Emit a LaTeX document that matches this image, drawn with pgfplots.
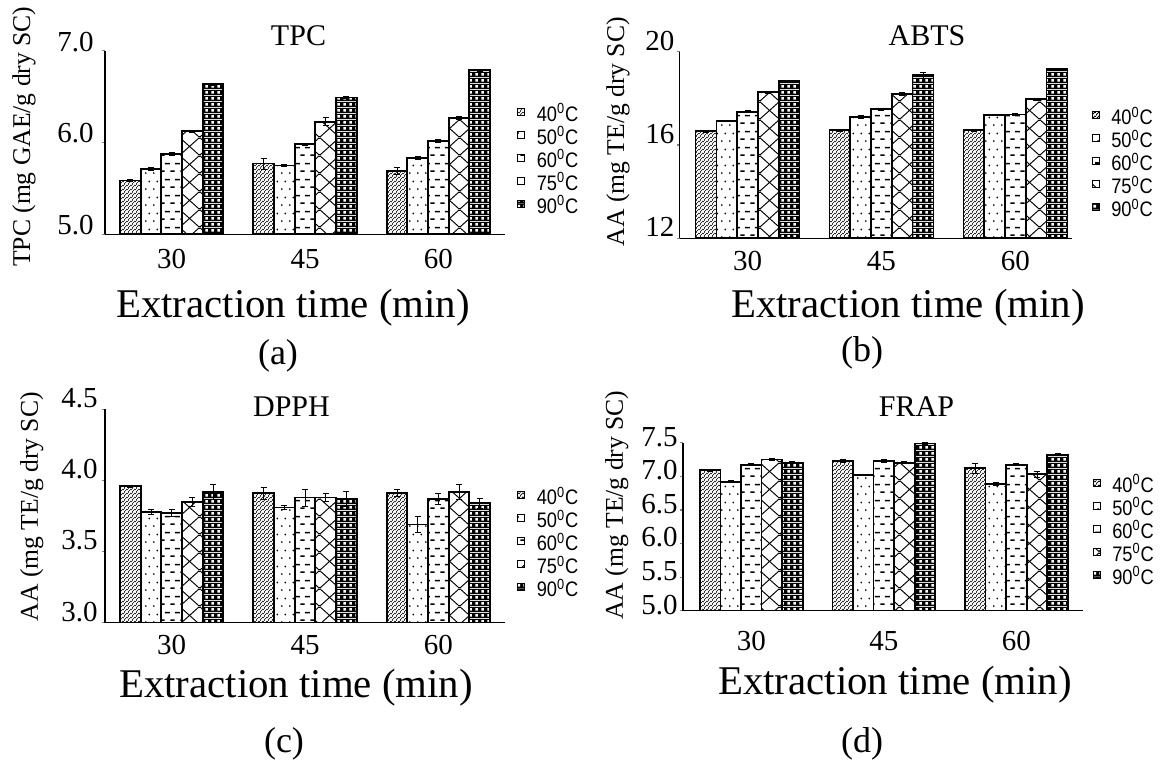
\documentclass[border=0pt]{standalone}
\usepackage{fontspec}
\setmainfont{Liberation Serif}
\newfontfamily\legfont[FakeStretch=0.87]{Liberation Sans}
\usepackage{pgfplots}
\usepackage{pgfplotstable}
\pgfplotsset{compat=1.18}
\usetikzlibrary{patterns.meta}

% bar fills (black on white)
\tikzdeclarepattern{name=pdiag, type=colored, bottom left={(0pt,0pt)}, top right={(2pt,2pt)}, tile size={(2pt,2pt)},
  code={\draw[black,line width=0.4pt] (-0.5pt,-0.5pt)--(2.5pt,2.5pt) (1.5pt,-0.5pt)--(2.5pt,0.5pt) (-0.5pt,1.5pt)--(0.5pt,2.5pt);}}
\tikzdeclarepattern{name=pdots, type=colored, bottom left={(0pt,0pt)}, top right={(4pt,8pt)}, tile size={(4pt,8pt)},
  code={\fill[black] (1pt,1pt) circle (0.5pt); \fill[black] (3pt,5pt) circle (0.5pt);}}
\tikzdeclarepattern{name=pdash, type=colored, bottom left={(0pt,0pt)}, top right={(5pt,8pt)}, tile size={(5pt,8pt)},
  code={\draw[black,line width=0.8pt] (0.2pt,2pt)--(2.6pt,2pt) (2.7pt,6pt)--(5.1pt,6pt);}}
\tikzdeclarepattern{name=pdiam, type=colored, bottom left={(0pt,0pt)}, top right={(10pt,9pt)}, tile size={(10pt,9pt)},
  code={\draw[black,line width=0.5pt] (-1pt,-0.9pt)--(11pt,9.9pt) (-1pt,9.9pt)--(11pt,-0.9pt);}}
\tikzdeclarepattern{name=pcheck, type=colored, bottom left={(0pt,0pt)}, top right={(3pt,3pt)}, tile size={(3pt,3pt)},
  code={\fill[black] (0pt,0pt) rectangle (3pt,3pt); \fill[white] (0.75pt,0.75pt) rectangle (2.25pt,2.25pt);}}

\pgfplotstableread{
x  a     ea    b     eb    c     ec    d     ed    e     ee
0  5.585 0.010 5.711 0.015 5.875 0.012 6.125 0.010 6.637 0.010
1  5.770 0.060 5.750 0.012 5.980 0.010 6.227 0.045 6.490 0.012
2  5.690 0.040 5.830 0.015 6.020 0.015 6.270 0.015 6.790 0.010
}\tpc
\pgfplotstableread{
x  a     ea    b     eb    c     ec    d     ed    e     ee
0  16.60 0.04  17.03 0.03  17.43 0.04  18.26 0.03  18.73 0.05
1  16.63 0.05  17.20 0.06  17.53 0.05  18.19 0.05  18.99 0.13
2  16.63 0.03  17.29 0.04  17.31 0.04  17.97 0.04  19.26 0.04
}\abts
\pgfplotstableread{
x  a     ea     b     eb     c     ec     d     ed     e     ee
0  3.96  0.008  3.78  0.020  3.77  0.025  3.85  0.030  3.92  0.050
1  3.91  0.040  3.81  0.012  3.88  0.060  3.88  0.030  3.87  0.050
2  3.91  0.025  3.69  0.055  3.87  0.040  3.92  0.050  3.84  0.035
}\dpph
\pgfplotstableread{
x  a     ea     b     eb     c     ec     d     ed     e     ee
0  7.09  0.015  6.92  0.015  7.17  0.015  7.25  0.015  7.20  0.015
1  7.23  0.020  7.02  0.012  7.23  0.020  7.20  0.015  7.49  0.020
2  7.12  0.070  6.89  0.020  7.17  0.015  7.03  0.050  7.32  0.015
}\frap

\newcommand{\bars}[1]{%
  \addplot[pattern=pdiag,  bar shift=-0.31]  table[x=x,y=a,y error=ea]{#1};
  \addplot[pattern=pdots,  bar shift=-0.155] table[x=x,y=b,y error=eb]{#1};
  \addplot[pattern=pdash,  bar shift=0]      table[x=x,y=c,y error=ec]{#1};
  \addplot[pattern=pdiam,  bar shift=0.155]  table[x=x,y=d,y error=ed]{#1};
  \addplot[pattern=pcheck, bar shift=0.31]   table[x=x,y=e,y error=ee]{#1};
  \legend{40\textsuperscript{0}C,50\textsuperscript{0}C,60\textsuperscript{0}C,75\textsuperscript{0}C,90\textsuperscript{0}C}
}

\pgfplotsset{
  panel/.style={
    scale only axis, anchor=south west, axis on top,
    axis x line*=bottom, axis y line*=left,
    axis line style={-, line width=0.7pt},
    ybar, bar width=0.155,
    xtick={0,1,2}, xticklabels={30,45,60},
    xtick style={draw=none}, ytick align=outside, xtick align=inside,
    major tick length=1.5pt, ytick style={line width=0.6pt},
    tick label style={font=\fontsize{14.5}{17}\selectfont},
    /pgf/number format/assume math mode=true,
    every axis plot/.append style={draw=black, line width=0.85pt},
    error bars/y dir=both, error bars/y explicit,
    error bars/error bar style={black, line width=0.4pt, mark size=1.5pt},
    legend image code/.code={\draw[##1, line width=0.5pt] (0pt,1.5pt) rectangle (3.5pt,5pt); \path (9pt,0pt);},
    legend style={anchor=north west, draw=none, fill=none, inner sep=0pt, row sep=0pt,
      font=\legfont\fontsize{10.5}{12}\selectfont,
      nodes={inner sep=0pt, text height=7.5pt, text depth=4pt}},
    legend cell align=left,
  },
  onedec/.style={y tick label style={/pgf/number format/fixed, /pgf/number format/fixed zerofill, /pgf/number format/precision=1}},
}

\begin{document}
\begin{tikzpicture}
\useasboundingbox (0,0) rectangle (583pt,-383.5pt);

% (a) TPC
\begin{axis}[panel, onedec, at={(52.5pt,-117.15pt)}, width=200pt, height=91.8pt,
  xmin=-0.5, xmax=2.5, ymin=5, ymax=7, ytick={5,6,7},
  yticklabel style={anchor=east, inner sep=0pt, xshift=-4pt, yshift=4.5pt},
  xticklabel style={anchor=north, inner sep=0pt, yshift=-7.5pt},
  legend style={at={(1.03,0.696)}}]
\bars{\tpc}
\end{axis}

% (b) ABTS
\begin{axis}[panel, at={(339.85pt,-119.15pt)}, width=196pt, height=93.3pt,
  xmin=-0.506, xmax=2.42, ymin=12, ymax=20, ytick={12,16,20},
  yticklabel style={anchor=east, inner sep=0pt, xshift=-1pt, yshift=5.5pt},
  xticklabel style={anchor=north, inner sep=0pt, yshift=-6.4pt},
  legend style={at={(1.0505,0.690)}}]
\bars{\abts}
\end{axis}

% (c) DPPH
\begin{axis}[panel, onedec, at={(52.5pt,-311.35pt)}, width=200pt, height=106.7pt,
  xmin=-0.5, xmax=2.5, ymin=3, ymax=4.5, ytick={3,3.5,4,4.5},
  yticklabel style={anchor=east, inner sep=0pt, xshift=-2pt, yshift=5.5pt},
  xticklabel style={anchor=north, inner sep=0pt, yshift=-6pt},
  legend style={at={(1.03,0.624)}}]
\bars{\dpph}
\end{axis}

% (d) FRAP
\begin{axis}[panel, onedec, at={(341.5pt,-305.35pt)}, width=199.85pt, height=84pt,
  xmin=-0.515, xmax=2.5, ymin=5, ymax=7.5, ytick={5,5.5,6,6.5,7,7.5},
  yticklabel style={anchor=east, inner sep=0pt, xshift=-1pt, yshift=3pt},
  xticklabel style={anchor=north, inner sep=0pt, yshift=-10.2pt},
  legend style={at={(1.0245,0.793)}}]
\bars{\frap}
\end{axis}

% titles
\begin{scope}[every node/.style={font=\fontsize{15}{18}\selectfont, anchor=base, inner sep=0pt}]
\node at (149.25pt,-22.5pt) {TPC};
\node at (463.5pt,-22.5pt) {ABTS};
\node at (145.75pt,-208.35pt) {DPPH};
\node at (458.25pt,-208.35pt) {FRAP};
\end{scope}
% y labels
\begin{scope}[every node/.style={font=\fontsize{12.8}{15}\selectfont, rotate=90, inner sep=0pt}]
\node at (12pt,-68.35pt) {TPC (mg GAE/g dry SC)};
\node at (309pt,-65.85pt) {AA (mg TE/g dry SC)};
\node at (15.85pt,-253.35pt) {AA (mg TE/g dry SC)};
\node at (308.4pt,-252.5pt) {AA (mg TE/g dry SC)};
\end{scope}
% x labels
\begin{scope}[every node/.style={font=\fontsize{20.4}{24}\selectfont, anchor=base, inner sep=0pt}]
\node at (146.5pt,-158.5pt) {Extraction time (min)};
\node at (454pt,-158.5pt) {Extraction time (min)};
\node at (148pt,-348.5pt) {Extraction time (min)};
\node at (447.5pt,-347pt) {Extraction time (min)};
\end{scope}
% panel letters
\begin{scope}[every node/.style={font=\fontsize{18}{22}\selectfont, inner sep=0pt}]
\node at (139pt,-178pt) {(a)};
\node at (431pt,-176.5pt) {(b)};
\node at (142pt,-372pt) {(c)};
\node at (431pt,-372pt) {(d)};
\end{scope}
\end{tikzpicture}
\end{document}
